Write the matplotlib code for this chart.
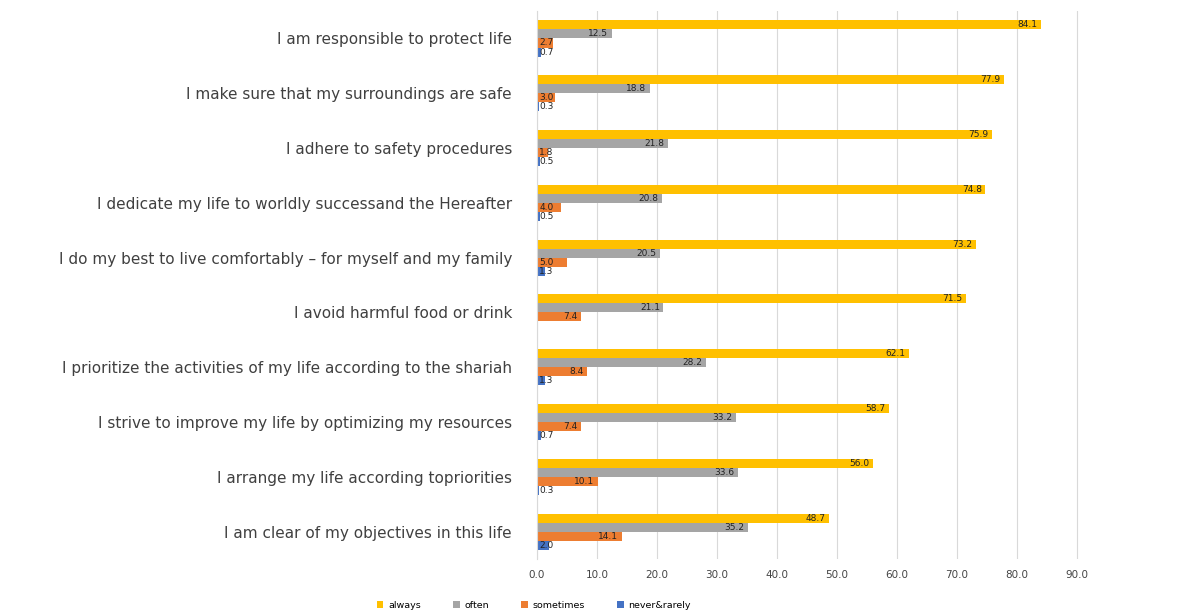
import numpy as np
import matplotlib.pyplot as plt

plt.rcParams['font.family'] = ['DejaVu Sans']

# survey statements, top to bottom
statements = [
    "I am responsible to protect life",
    "I make sure that my surroundings are safe",
    "I adhere to safety procedures",
    "I dedicate my life to worldly successand the Hereafter",
    "I do my best to live comfortably \u2013 for myself and my family",
    "I avoid harmful food or drink",
    "I prioritize the activities of my life according to the shariah",
    "I strive to improve my life by optimizing my resources",
    "I arrange my life according topriorities",
    "I am clear of my objectives in this life",
]

always = [84.1, 77.9, 75.9, 74.8, 73.2, 71.5, 62.1, 58.7, 56.0, 48.7]
often = [12.5, 18.8, 21.8, 20.8, 20.5, 21.1, 28.2, 33.2, 33.6, 35.2]
sometimes = [2.7, 3.0, 1.8, 4.0, 5.0, 7.4, 8.4, 7.4, 10.1, 14.1]
never_rarely = [0.7, 0.3, 0.5, 0.5, 1.3, 0.0, 1.3, 0.7, 0.3, 2.0]

series_names = ["always", "often", "sometimes", "never&rarely"]
series_vals = [always, often, sometimes, never_rarely]
colors = ["#FFC000", "#A5A5A5", "#ED7D31", "#4472C4"]

fig = plt.figure(figsize=(11.81, 6.15), dpi=100)
ax = fig.add_axes([0.4547, 0.091, 0.533, 0.891])

h = 0.165
ypos = np.arange(len(statements))
for k, (vals, c, name) in enumerate(zip(series_vals, colors, series_names)):
    y = ypos + (k - 1.5) * h
    vals = np.array(vals)
    ax.barh(y, vals, height=h, color=c, label=name, zorder=2)
    for yi, v in zip(y, vals):
        if v == 0:
            continue
        txt = f"{v:.1f}"
        if v > 6:
            ax.text(v - 0.6, yi, txt, ha='right', va='center', fontsize=6.5,
                    color='#222222', zorder=3)
        else:
            ax.text(0.4, yi, txt, ha='left', va='center', fontsize=6.5,
                    color='#222222', zorder=3)

ax.set_ylim(len(statements) - 0.5, -0.5)
ax.set_xlim(0, 105)
ax.set_xticks(np.arange(0, 91, 10))
ax.set_xticklabels([f"{t:.1f}" for t in np.arange(0, 91, 10)], fontsize=7.5, color='#444444')
ax.set_yticks(ypos)
ax.set_yticklabels(statements, fontsize=11, color='#404040')
ax.tick_params(axis='x', length=0, pad=8)
ax.tick_params(axis='y', length=0, pad=18)

ax.grid(axis='x', color='#D9D9D9', linewidth=0.8, zorder=0)
for s in ['top', 'right', 'bottom']:
    ax.spines[s].set_visible(False)
ax.spines['left'].set_color('#D9D9D9')

fig.legend(loc='lower center', bbox_to_anchor=(0.452, -0.005), ncol=4, frameon=False,
           fontsize=6.8, handlelength=0.7, handleheight=0.7, columnspacing=3.4,
           handletextpad=0.5)

fig.savefig("out.png", dpi=100)
